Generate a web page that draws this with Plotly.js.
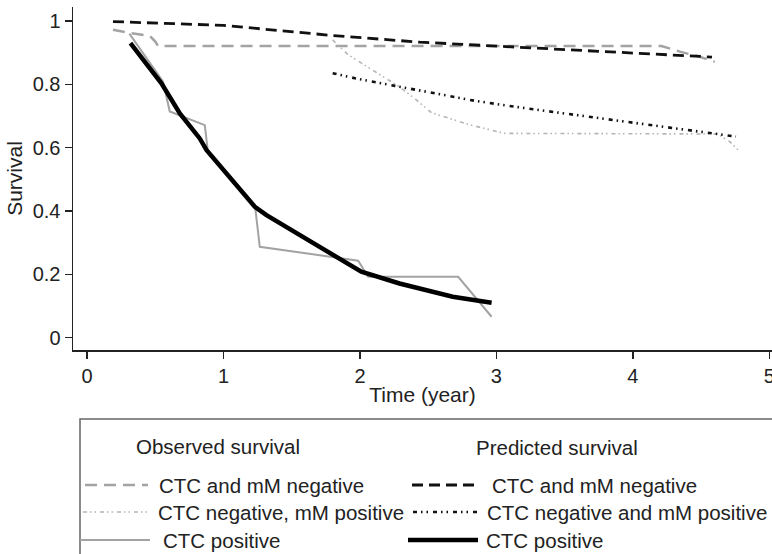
<!DOCTYPE html>
<html>
<head>
<meta charset="utf-8">
<script src="https://cdn.plot.ly/plotly-3.0.1.min.js"></script>
<style>html,body{margin:0;padding:0;background:#fff;}#chart{width:772px;height:554px;}</style>
</head>
<body>
<div id="chart"></div>
<script>
// Observed survival
const obsNegX = [0.19, 0.325, 0.46, 0.50, 0.52, 4.21, 4.345, 4.49, 4.60];
const obsNegY = [0.972, 0.961, 0.953, 0.935, 0.921, 0.921, 0.903, 0.887, 0.871];
const obsMmX = [1.80, 1.914, 2.17, 2.29, 2.415, 2.525, 2.806, 3.06, 4.62, 4.71, 4.77];
const obsMmY = [0.940, 0.893, 0.824, 0.792, 0.750, 0.710, 0.672, 0.645, 0.643, 0.619, 0.593];
const obsPosX = [0.31, 0.557, 0.606, 0.863, 0.887, 1.05, 1.23, 1.266, 1.987, 2.06, 2.72, 2.965];
const obsPosY = [0.960, 0.808, 0.714, 0.671, 0.582, 0.51, 0.419, 0.287, 0.243, 0.192, 0.192, 0.066];
// Predicted survival
const predNegX = [0.19, 1.0, 1.8, 2.44, 3.07, 3.757, 4.58];
const predNegY = [0.998, 0.986, 0.954, 0.933, 0.919, 0.903, 0.886];
const predMmX = [1.80, 1.964, 2.256, 2.55, 2.84, 3.135, 3.575, 4.015, 4.31, 4.756];
const predMmY = [0.835, 0.819, 0.795, 0.772, 0.748, 0.729, 0.703, 0.679, 0.661, 0.635];
const predPosX = [0.318, 0.545, 0.68, 0.826, 0.875, 1.046, 1.23, 1.315, 1.56, 1.853, 2.01, 2.29, 2.68, 2.965];
const predPosY = [0.930, 0.803, 0.708, 0.629, 0.593, 0.508, 0.413, 0.387, 0.324, 0.245, 0.208, 0.171, 0.129, 0.110];

const xTicks = [0, 1, 2, 3, 4, 5];
const yTicks = [0, 0.2, 0.4, 0.6, 0.8, 1];
const yTickText = ['0', '0.2', '0.4', '0.6', '0.8', '1'];
const legendTitles = ['Observed survival', 'Predicted survival'];
const legendLabelsObs = ['CTC and mM negative', 'CTC negative, mM positive', 'CTC positive'];
const legendLabelsPred = ['CTC and mM negative', 'CTC negative and mM positive', 'CTC positive'];

const FONT = 'Liberation Sans, Arial, Helvetica, sans-serif';
const GRAY = '#a3a3a3';
const LGRAY = '#b4b4b4';

const sObsNeg = {color: GRAY, width: 2.5, dash: '12px,7px'};
const sObsMm = {color: LGRAY, width: 1.6, dash: '4px,3px,1.5px,3px,1.5px,4px'};
const sObsPos = {color: GRAY, width: 2};
const sPredNeg = {color: '#111', width: 2.8, dash: '11px,6px'};
const sPredMm = {color: '#111', width: 2.6, dash: '4px,4px,1.5px,4px,1.5px,5px'};
const sPredPos = {color: '#000', width: 4.5};

const traces = [
  {x: obsNegX, y: obsNegY, mode: 'lines', line: sObsNeg, name: 'Observed: ' + legendLabelsObs[0]},
  {x: obsMmX, y: obsMmY, mode: 'lines', line: sObsMm, name: 'Observed: ' + legendLabelsObs[1]},
  {x: obsPosX, y: obsPosY, mode: 'lines', line: sObsPos, name: 'Observed: ' + legendLabelsObs[2]},
  {x: predNegX, y: predNegY, mode: 'lines', line: sPredNeg, name: 'Predicted: ' + legendLabelsPred[0]},
  {x: predMmX, y: predMmY, mode: 'lines', line: sPredMm, name: 'Predicted: ' + legendLabelsPred[1]},
  {x: predPosX, y: predPosY, mode: 'lines', line: sPredPos, name: 'Predicted: ' + legendLabelsPred[2]}
];

// pixel -> paper helpers (plot area: x 73..772, y 7..350)
const L = 73, R = 772, T = 7, B = 350;
const px = v => (v - L) / (R - L);
const py = v => (B - v) / (B - T);

const shapes = [
  {type: 'rect', xref: 'paper', yref: 'paper', x0: px(80), x1: px(790), y0: py(419), y1: py(600),
   line: {color: '#666', width: 1.5}, fillcolor: 'rgba(0,0,0,0)'},
  // observed samples
  {type: 'line', xref: 'paper', yref: 'paper', x0: px(85), x1: px(148), y0: py(485), y1: py(485), line: sObsNeg},
  {type: 'line', xref: 'paper', yref: 'paper', x0: px(83), x1: px(150), y0: py(512), y1: py(512), line: sObsMm},
  {type: 'line', xref: 'paper', yref: 'paper', x0: px(80), x1: px(150), y0: py(540), y1: py(540), line: sObsPos},
  // predicted samples
  {type: 'line', xref: 'paper', yref: 'paper', x0: px(412), x1: px(478), y0: py(485), y1: py(485), line: sPredNeg},
  {type: 'line', xref: 'paper', yref: 'paper', x0: px(413), x1: px(480), y0: py(512), y1: py(512), line: sPredMm},
  {type: 'line', xref: 'paper', yref: 'paper', x0: px(408), x1: px(478), y0: py(540), y1: py(540), line: sPredPos}
];

const tf = {family: FONT, size: 20.5, color: '#222'};
const ann = (x, y, text, anchor) => ({xref: 'paper', yref: 'paper', x: px(x), y: py(y), text: text,
  showarrow: false, xanchor: anchor, yanchor: 'middle', font: tf});
const annotations = [
  ann(218, 446, legendTitles[0], 'center'),
  ann(557, 448, legendTitles[1], 'center'),
  ann(157, 485, legendLabelsObs[0], 'left'),
  ann(156, 512, legendLabelsObs[1], 'left'),
  ann(161, 540, legendLabelsObs[2], 'left'),
  ann(490, 485, legendLabelsPred[0], 'left'),
  ann(485, 512, legendLabelsPred[1], 'left'),
  ann(484, 540, legendLabelsPred[2], 'left')
];

const tickFont = {family: FONT, size: 20, color: '#222'};
const titleFont = {family: FONT, size: 21, color: '#222'};

const layout = {
  width: 772, height: 554,
  margin: {l: L, r: 772 - R, t: T, b: 554 - B, pad: 0},
  paper_bgcolor: '#fff', plot_bgcolor: '#fff',
  showlegend: false,
  font: {family: FONT, size: 20, color: '#222'},
  xaxis: {
    range: [-0.103, 5.02], tickvals: xTicks, ticktext: xTicks.map(String),
    ticklabeloverflow: 'allow',
    showgrid: false, zeroline: false, showline: true, linecolor: '#222', linewidth: 1.5,
    ticks: 'outside', ticklen: 7, tickwidth: 1.5, tickcolor: '#222',
    tickfont: tickFont,
    title: {text: 'Time (year)', font: titleFont, standoff: 2}
  },
  yaxis: {
    range: [-0.039, 1.044], tickvals: yTicks, ticktext: yTickText,
    showgrid: false, zeroline: false, showline: true, linecolor: '#222', linewidth: 1.5,
    ticks: 'outside', ticklen: 7, tickwidth: 1.5, tickcolor: '#222',
    tickfont: tickFont,
    title: {text: 'Survival', font: titleFont, standoff: 4}
  },
  shapes: shapes,
  annotations: annotations
};

Plotly.newPlot('chart', traces, layout, {displayModeBar: false, staticPlot: true});
</script>
</body>
</html>
